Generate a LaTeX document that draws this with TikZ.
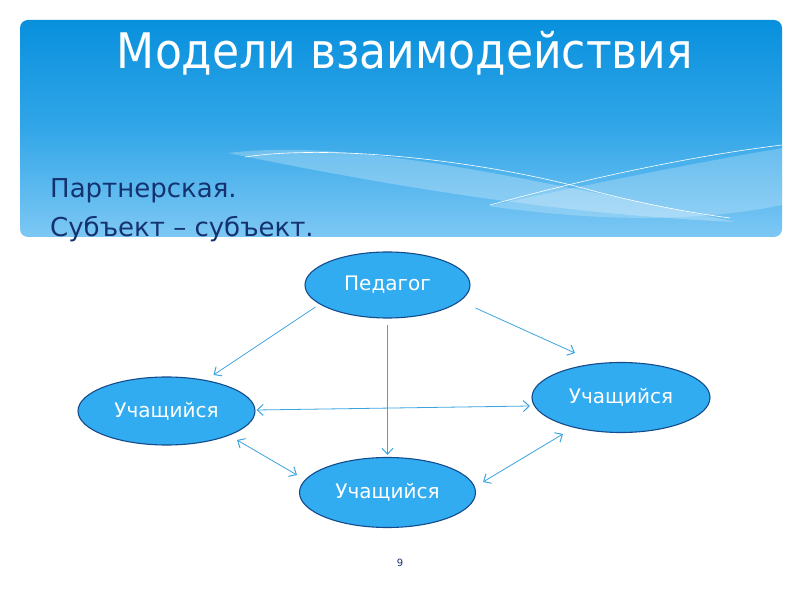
\documentclass[tikz,border=0pt]{standalone}
\usepackage{fontspec}
\setmainfont{DejaVu Sans}
\newfontfamily\condfont{DejaVu Sans Condensed}
\usetikzlibrary{arrows.meta,calc,shapes.geometric}
\definecolor{edgeblue}{RGB}{20,75,140}
\definecolor{fillblue}{RGB}{50,172,240}
\definecolor{lineblue}{RGB}{60,165,225}
\definecolor{navy}{RGB}{20,50,110}
\definecolor{topblue}{RGB}{8,144,221}
\definecolor{midblue}{RGB}{50,166,232}
\definecolor{botblue}{RGB}{125,200,244}
\begin{document}
\begin{tikzpicture}[x=1pt,y=1pt,
  person/.style={ellipse, draw=edgeblue, line width=1.1pt, fill=fillblue, text=white,
    font=\fontsize{20}{23}\selectfont, inner sep=0pt},
  subtext/.style={anchor=base west, text=navy, font=\fontsize{26}{30}\selectfont, inner sep=0pt},
  barb/.tip={Straight Barb[length=6pt,width=11pt,line width=1pt]},
  link/.style={draw=lineblue, line width=0.8pt, -barb},
  both/.style={draw=lineblue, line width=0.8pt, barb-barb}]
\useasboundingbox (0,0) rectangle (800,600);
\fill[white] (0,0) rectangle (800,600);
% banner
\shade[rounded corners=8pt, top color=topblue, bottom color=botblue, middle color=midblue]
  (20,363) rectangle (782,580);
\begin{scope}
\clip[rounded corners=8pt] (20,363) rectangle (782,580);
\fill[white, opacity=0.25] (228,447) .. controls (340,460) and (480,432) .. (735,378)
  .. controls (560,386) and (400,412) .. (228,447) -- cycle;
\fill[white, opacity=0.22] (488,394) .. controls (600,418) and (700,438) .. (782,452)
  -- (782,395) .. controls (700,378) and (600,378) .. (488,394) -- cycle;
\draw[white, line width=0.6pt] (245,443) .. controls (330,456) and (480,440) .. (590,410)
  .. controls (650,394) and (700,386) .. (730,382);
\draw[white, line width=0.6pt] (490,395) .. controls (600,425) and (700,445) .. (782,455);
\end{scope}
% title and subtitle
\node[anchor=base, text=white, font=\condfont\fontsize{49}{55}\selectfont] (title) at (405,531) {Модели взаимодействия};
\node[subtext] (sub1) at (50,402) {Партнерская.};
\node[subtext] (sub2) at (50,363) {Субъект – субъект.};
% ellipses
\node[person, minimum width=165pt, minimum height=66pt] (ped) at (387.5,315) {Педагог};
\node[person, minimum width=177pt, minimum height=68pt] (L) at (166.5,189) {Учащийся};
\node[person, minimum width=178pt, minimum height=70pt] (R) at (621,202.5) {Учащийся};
\node[person, minimum width=176pt, minimum height=70pt] (B) at (387.5,107.5) {Учащийся};
% connectors
\draw[link] ($(ped)+(-72,-22)$) -- ($(L)+(47,36)$);
\draw[link] ($(ped)+(88,-23)$) -- ($(R)+(-46,44.5)$);
\draw[link] ($(ped)+(0,-40)$) -- ($(B)+(0,37.5)$);
\draw[both] ($(L)+(90,1)$) -- ($(R)+(-91,-8.5)$);
\draw[both] ($(L)+(70.5,-29)$) -- ($(B)+(-90.5,17.5)$);
\draw[both] ($(B)+(95.5,10.5)$) -- ($(R)+(-58,-36.5)$);
% page number
\node[text=navy, font=\fontsize{10}{12}\selectfont] (num) at (400,37) {9};
\end{tikzpicture}
\end{document}
